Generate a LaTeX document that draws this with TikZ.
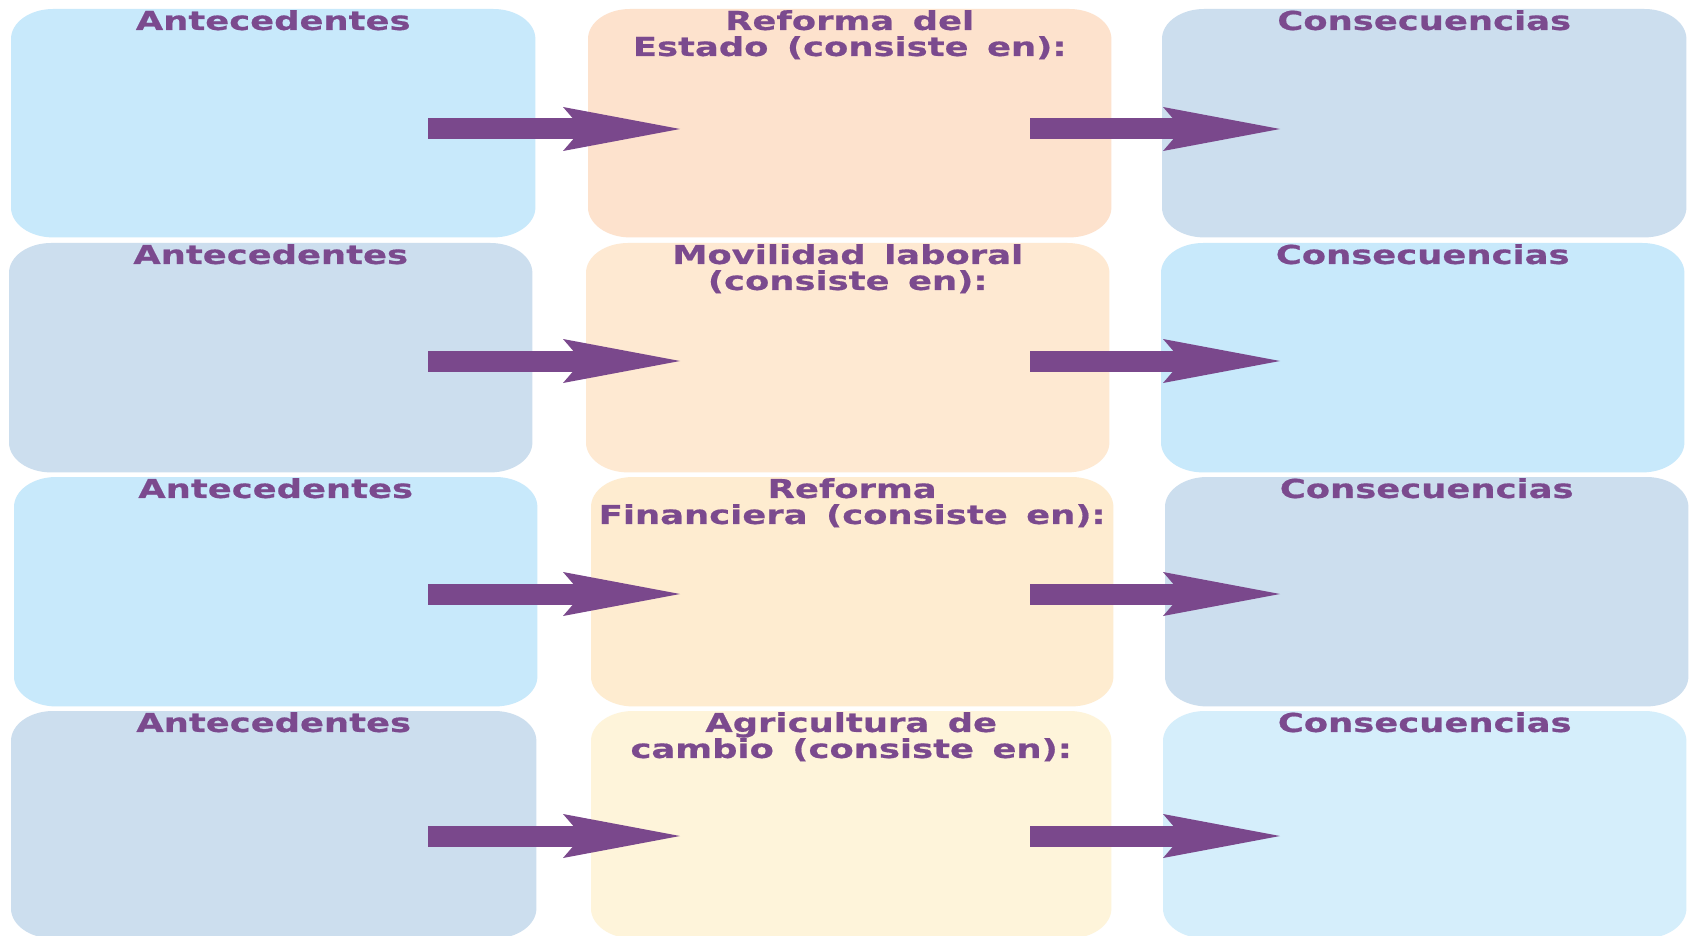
\documentclass[tikz,border=0pt]{standalone}
\usepackage{fontspec}
\newfontfamily\titlefont[FakeStretch=1.36, FakeBold=0.6, WordSpace=1.5]{DejaVu Sans}
\usetikzlibrary{arrows.meta}
\definecolor{cblue}{HTML}{C8E9FB}
\definecolor{cgray}{HTML}{CCDEEE}
\definecolor{cpeachA}{HTML}{FDE2CD}
\definecolor{cpeachB}{HTML}{FEE9D2}
\definecolor{cpeachC}{HTML}{FEECD0}
\definecolor{cyellow}{HTML}{FEF4DA}
\definecolor{cblueL}{HTML}{D5EEFB}
\definecolor{apurple}{HTML}{7A488C}
\definecolor{tpurple}{HTML}{7B4A8E}
\tikzset{
  box/.style={inner sep=0pt, anchor=north west, draw=none},
  corner/.style={x radius=42pt, y radius=30pt},
  lbl/.style={anchor=north, inner sep=0pt, text=tpurple, align=center,
    font=\titlefont\bfseries\fontsize{26}{26}\selectfont},
  flow/.style={draw=apurple, line width=21pt,
    -{Stealth[length=117pt, width=44pt, inset=19pt, line width=0pt]}}
}
% #1 name, #2 x, #3 y, #4 width, #5 height, #6 colour
\newcommand{\roundbox}[6]{%
  \node[box, minimum width=#4pt, minimum height=#5pt] (#1) at (#2,#3) {};
  \fill[#6] ([xshift=42pt]#1.north west) -- ([xshift=-42pt]#1.north east)
    arc[start angle=90, end angle=0, corner] -- ([yshift=30pt]#1.south east)
    arc[start angle=0, end angle=-90, corner] -- ([xshift=42pt]#1.south west)
    arc[start angle=270, end angle=180, corner] -- ([yshift=-30pt]#1.north west)
    arc[start angle=180, end angle=90, corner] -- cycle;
}
\begin{document}
\begin{tikzpicture}[x=1pt,y=-1pt]
\useasboundingbox (0,0) rectangle (1690,936);
\fill[white] (0,0) rectangle (1690,936);
% row 1
\roundbox{L1}{11}{9}{524}{228}{cblue}
\roundbox{M1}{588}{9}{523}{228}{cpeachA}
\roundbox{R1}{1162}{9}{524}{228}{cgray}
% row 2
\roundbox{L2}{9}{243}{523}{229}{cgray}
\roundbox{M2}{586}{243}{523}{229}{cpeachB}
\roundbox{R2}{1161}{243}{523}{229}{cblue}
% row 3
\roundbox{L3}{14}{477}{523}{229}{cblue}
\roundbox{M3}{591}{477}{522}{229}{cpeachC}
\roundbox{R3}{1165}{477}{523}{229}{cgray}
% row 4
\roundbox{L4}{11}{711}{525}{227}{cgray}
\roundbox{M4}{591}{711}{520}{227}{cyellow}
\roundbox{R4}{1163}{711}{523}{227}{cblueL}
% labels
\node[lbl] (tL1) at ([yshift=-1pt]L1.north) {Antecedentes};
\node[lbl] (tM1) at ([yshift=-1pt]M1.north) {Reforma del\\Estado (consiste en):};
\node[lbl] (tR1) at ([yshift=-1pt]R1.north) {Consecuencias};
\node[lbl] (tL2) at ([yshift=-1pt]L2.north) {Antecedentes};
\node[lbl] (tM2) at ([yshift=-1pt]M2.north) {Movilidad laboral\\(consiste en):};
\node[lbl] (tR2) at ([yshift=-1pt]R2.north) {Consecuencias};
\node[lbl] (tL3) at ([yshift=-1pt]L3.north) {Antecedentes};
\node[lbl] (tM3) at ([yshift=-1pt]M3.north) {Reforma\\Financiera (consiste en):};
\node[lbl] (tR3) at ([yshift=-1pt]R3.north) {Consecuencias};
\node[lbl] (tL4) at ([yshift=-1pt]L4.north) {Antecedentes};
\node[lbl] (tM4) at ([yshift=-1pt]M4.north) {Agricultura de\\cambio (consiste en):};
\node[lbl] (tR4) at ([yshift=-1pt]R4.north) {Consecuencias};
% arrow end points
\coordinate (a1s) at (428,129);  \coordinate (a1e) at (680,129);
\coordinate (b1s) at (1030,129); \coordinate (b1e) at (1280,129);
\coordinate (a2s) at (428,361);  \coordinate (a2e) at (680,361);
\coordinate (b2s) at (1030,361); \coordinate (b2e) at (1280,361);
\coordinate (a3s) at (428,594);  \coordinate (a3e) at (680,594);
\coordinate (b3s) at (1030,594); \coordinate (b3e) at (1280,594);
\coordinate (a4s) at (428,836);  \coordinate (a4e) at (680,836);
\coordinate (b4s) at (1030,836); \coordinate (b4e) at (1280,836);
\draw[flow] (a1s) -- (a1e);
\draw[flow] (b1s) -- (b1e);
\draw[flow] (a2s) -- (a2e);
\draw[flow] (b2s) -- (b2e);
\draw[flow] (a3s) -- (a3e);
\draw[flow] (b3s) -- (b3e);
\draw[flow] (a4s) -- (a4e);
\draw[flow] (b4s) -- (b4e);
\end{tikzpicture}
\end{document}
